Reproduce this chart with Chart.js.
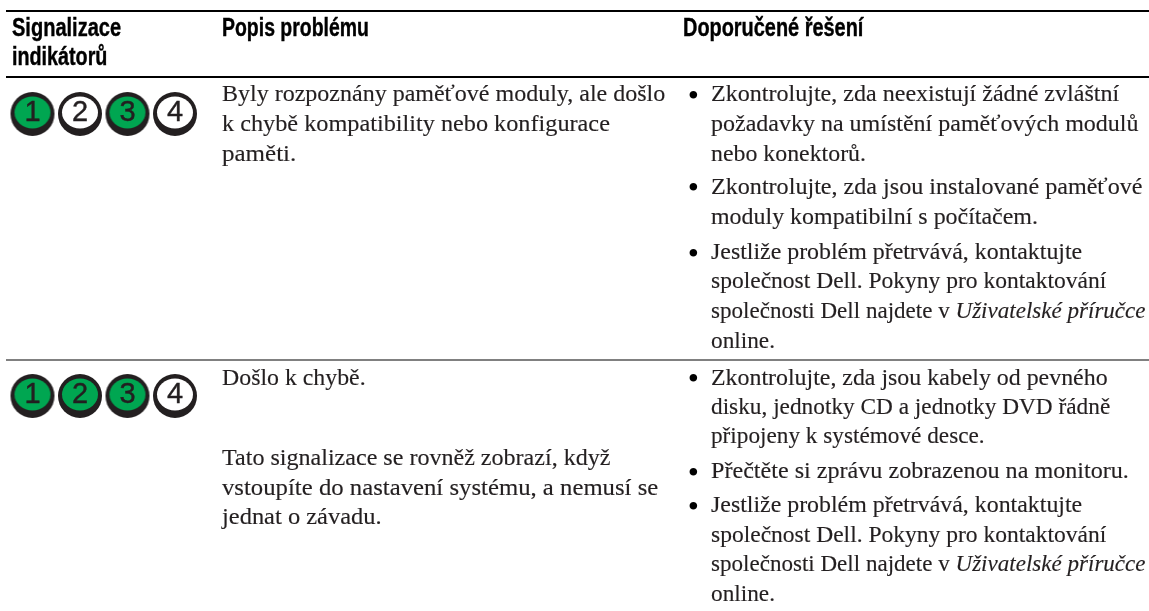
<!DOCTYPE html>
<html>
<head>
<meta charset="utf-8">
<script src="https://cdn.jsdelivr.net/npm/chart.js@4"></script>
<style>
    html, body { margin: 0; padding: 0; background: #fff; width: 1149px; height: 611px; overflow: hidden; }
    #page { position: relative; width: 1149px; height: 611px; overflow: hidden; }
    canvas { position: absolute; left: 0; top: 0; }
    .rule { position: absolute; left: 6px; right: 0; }
    .line { position: absolute; white-space: nowrap; line-height: 30px; transform-origin: left top; }
    .body { font: 24px/30px "Liberation Serif", serif; color: #231f20; -webkit-text-stroke: 0.15px #231f20; }
    .bullet { font: 32px/30px "Liberation Serif", serif; color: #000; }
    .head { font: bold 25px/30px "Liberation Sans Narrow", "Liberation Sans", sans-serif; color: #000; -webkit-text-stroke: 0.4px #000; }
</style>
</head>
<body>
<div id="page">
    <canvas id="myChart" width="1149" height="611"></canvas>
</div>
<script>
// indicator states, 1 = lit
var ledLabels = ['1', '2', '3', '4'];
var rowOneStates = [1, 0, 1, 0];
var rowTwoStates = [1, 1, 1, 0];

var headers = ['Signalizace', 'indikátorů', 'Popis problému', 'Doporučené řešení'];

var rowOneProblem = [
    'Byly rozpoznány paměťové moduly, ale došlo',
    'k chybě kompatibility nebo konfigurace',
    'paměti.'
];
var rowTwoProblem = [
    'Došlo k chybě.',
    'Tato signalizace se rovněž zobrazí, když',
    'vstoupíte do nastavení systému, a nemusí se',
    'jednat o závadu.'
];
var rowOneSolution = [
    'Zkontrolujte, zda neexistují žádné zvláštní',
    'požadavky na umístění paměťových modulů',
    'nebo konektorů.',
    'Zkontrolujte, zda jsou instalované paměťové',
    'moduly kompatibilní s počítačem.',
    'Jestliže problém přetrvává, kontaktujte',
    'společnost Dell. Pokyny pro kontaktování',
    'společnosti Dell najdete v <i>Uživatelské příručce</i>',
    'online.'
];
var rowTwoSolution = [
    'Zkontrolujte, zda jsou kabely od pevného',
    'disku, jednotky CD a jednotky DVD řádně',
    'připojeny k systémové desce.',
    'Přečtěte si zprávu zobrazenou na monitoru.',
    'Jestliže problém přetrvává, kontaktujte',
    'společnost Dell. Pokyny pro kontaktování',
    'společnosti Dell najdete v <i>Uživatelské příručce</i>',
    'online.'
];

function addLine(html, cls, left, baseline, right) {
    var el = document.createElement('div');
    el.className = 'line ' + cls;
    el.innerHTML = html;
    el.style.left = left + 'px';
    el.style.top = (baseline - 23) + 'px';
    document.getElementById('page').appendChild(el);
    // fit the line to the width it has in the original
    if (right) {
        el.style.transform = 'scaleX(' + ((right - left) / el.offsetWidth) + ')';
    }
}

function addBlock(lines, left, baselines, rights) {
    lines.forEach(function(line, i) {
        addLine(line, 'body', left, baselines[i], rights[i]);
    });
}

function addRule(top, height, color) {
    var el = document.createElement('div');
    el.className = 'rule';
    el.style.top = top + 'px';
    el.style.height = height + 'px';
    el.style.background = color;
    document.getElementById('page').appendChild(el);
}

function makeLed(lit) {
    var c = document.createElement('canvas');
    c.width = 46;
    c.height = 46;
    var ctx = c.getContext('2d');
    ctx.fillStyle = '#231f20';
    ctx.beginPath();
    ctx.arc(23, 23, 22, 0, Math.PI * 2);
    ctx.fill();
    ctx.fillStyle = lit ? '#00a651' : '#ffffff';
    ctx.beginPath();
    ctx.ellipse(23, 21.5, 18, 16, 0, 0, Math.PI * 2);
    ctx.fill();
    return c;
}

function rowDataset(states, row) {
    return {
        data: states.map(function(s, i) { return { x: i + 1, y: row }; }),
        pointStyle: states.map(makeLed),
        pointRadius: 22,
        clip: false
    };
}

var ledNumbers = {
    id: 'ledNumbers',
    afterDatasetsDraw: function(chart) {
        var ctx = chart.ctx;
        ctx.save();
        ctx.font = '29px "Liberation Sans", sans-serif';
        ctx.fillStyle = '#231f20';
        ctx.strokeStyle = '#231f20';
        ctx.lineWidth = 0.4;
        ctx.textAlign = 'center';
        ctx.textBaseline = 'middle';
        chart.data.datasets.forEach(function(ds, d) {
            chart.getDatasetMeta(d).data.forEach(function(pt, i) {
                ctx.fillText(ledLabels[i], pt.x, pt.y - 1);
                ctx.strokeText(ledLabels[i], pt.x, pt.y - 1);
            });
        });
        ctx.restore();
    }
};

function init() {
    new Chart(document.getElementById('myChart').getContext('2d'), {
        type: 'scatter',
        data: { datasets: [rowDataset(rowOneStates, 1), rowDataset(rowTwoStates, 2)] },
        options: {
            responsive: false,
            animation: false,
            layout: { padding: { left: 32.5, right: 974, top: 114, bottom: 215 } },
            plugins: { legend: { display: false }, tooltip: { enabled: false } },
            scales: {
                x: { type: 'linear', min: 1, max: 4, display: false },
                y: { type: 'linear', min: 1, max: 2, reverse: true, display: false }
            }
        },
        plugins: [ledNumbers]
    });

    addRule(10, 2, '#000');
    addRule(76, 2, '#000');
    addRule(359, 2, '#808080');

    addLine(headers[0], 'head', 11.5, 35, 120.5);
    addLine(headers[1], 'head', 11.5, 64, 107);
    addLine(headers[2], 'head', 222, 35, 369);
    addLine(headers[3], 'head', 683, 35, 863);

    addBlock(rowOneProblem, 222, [101, 131, 161], [665, 610, 296]);
    addBlock(rowTwoProblem, 222, [384.5, 464.5, 494.5, 524], [366, 610, 658, 382]);
    addBlock(rowOneSolution, 711, [101, 131, 160.5, 193.5, 223.5, 259, 288, 318, 347.5],
        [1119, 1139, 866, 1142, 1038, 1082, 1106, 1146, 775]);
    addBlock(rowTwoSolution, 711, [384.5, 413.5, 443, 478, 512, 541.5, 571, 601],
        [1108, 1110, 985, 1129, 1082, 1106, 1146, 775]);

    [101, 193.5, 259, 384.5, 478, 512].forEach(function(b) {
        addLine('•', 'bullet', 687.7, b + 1.5);
    });
}

init();
</script>
</body>
</html>
